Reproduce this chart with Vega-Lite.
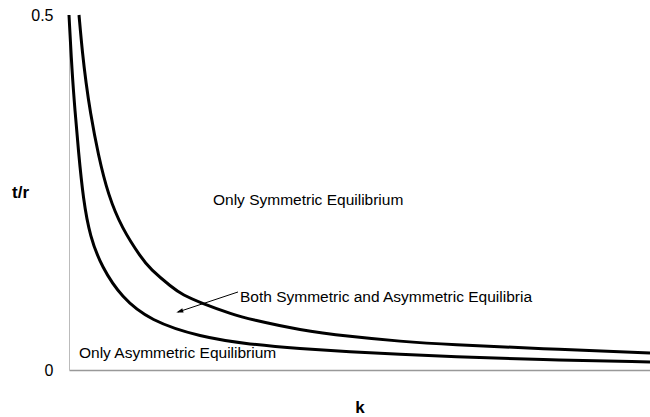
{
  "$schema": "https://vega.github.io/schema/vega-lite/v6.json",
  "width": 581,
  "height": 355,
  "autosize": {"type": "none"},
  "padding": {"left": 69, "top": 15, "right": 0, "bottom": 47},
  "background": "white",
  "config": {"view": {"stroke": null}, "font": "Liberation Sans"},
  "datasets": {
    "curves": [
      {"k": 0, "v": 0.5, "curve": "lower"},
      {"k": 3, "v": 0.42, "curve": "lower"},
      {"k": 6, "v": 0.365, "curve": "lower"},
      {"k": 9.3, "v": 0.31, "curve": "lower"},
      {"k": 14.3, "v": 0.2394, "curve": "lower"},
      {"k": 21, "v": 0.188, "curve": "lower"},
      {"k": 32.7, "v": 0.145, "curve": "lower"},
      {"k": 52.7, "v": 0.102, "curve": "lower"},
      {"k": 81, "v": 0.0695, "curve": "lower"},
      {"k": 131, "v": 0.0465, "curve": "lower"},
      {"k": 181, "v": 0.036, "curve": "lower"},
      {"k": 231, "v": 0.03, "curve": "lower"},
      {"k": 281, "v": 0.0255, "curve": "lower"},
      {"k": 331, "v": 0.022, "curve": "lower"},
      {"k": 381, "v": 0.0187, "curve": "lower"},
      {"k": 471, "v": 0.0145, "curve": "lower"},
      {"k": 581, "v": 0.0113, "curve": "lower"},
      {"k": 10, "v": 0.5, "curve": "upper"},
      {"k": 13.5, "v": 0.445, "curve": "upper"},
      {"k": 17, "v": 0.405, "curve": "upper"},
      {"k": 21, "v": 0.365, "curve": "upper"},
      {"k": 29.3, "v": 0.302, "curve": "upper"},
      {"k": 39.3, "v": 0.246, "curve": "upper"},
      {"k": 52.7, "v": 0.2, "curve": "upper"},
      {"k": 72.7, "v": 0.157, "curve": "upper"},
      {"k": 81, "v": 0.1425, "curve": "upper"},
      {"k": 102.7, "v": 0.1165, "curve": "upper"},
      {"k": 114, "v": 0.1055, "curve": "upper"},
      {"k": 131, "v": 0.095, "curve": "upper"},
      {"k": 164, "v": 0.078, "curve": "upper"},
      {"k": 181, "v": 0.0715, "curve": "upper"},
      {"k": 231, "v": 0.056, "curve": "upper"},
      {"k": 281, "v": 0.0472, "curve": "upper"},
      {"k": 331, "v": 0.0403, "curve": "upper"},
      {"k": 381, "v": 0.0356, "curve": "upper"},
      {"k": 471, "v": 0.0302, "curve": "upper"},
      {"k": 581, "v": 0.0239, "curve": "upper"}
    ],
    "labels": [
      {"k": 144, "v": 0.2394, "text": "Only Symmetric Equilibrium"},
      {"k": 171, "v": 0.1028, "text": "Both Symmetric and Asymmetric Equilibria"},
      {"k": 10, "v": 0.0239, "text": "Only Asymmetric Equilibrium"}
    ],
    "arrow": [
      {"k": 169, "v": 0.1099},
      {"k": 109, "v": 0.0817}
    ],
    "arrowhead": [
      {"k": 111, "v": 0.0826}
    ]
  },
  "layer": [
    {
      "data": {"name": "curves"},
      "mark": {"type": "line", "color": "black", "strokeWidth": 3, "interpolate": "basis"},
      "encoding": {
        "x": {"field": "k", "type": "quantitative", "scale": {"domain": [0, 581], "nice": false},
          "axis": {"title": "k", "labels": false, "ticks": false, "grid": false, "domainColor": "#999999", "domainWidth": 1.5,
            "titleFontSize": 17, "titleFontWeight": "bold", "titleY": 37, "titleBaseline": "middle", "titleColor": "black"}},
        "y": {"field": "v", "type": "quantitative", "scale": {"domain": [0, 0.5], "nice": false},
          "axis": {"title": "t/r", "values": [0, 0.5], "format": "~g", "ticks": false, "grid": false, "domainColor": "#bbbbbb",
            "labelFontSize": 16, "labelPadding": 16, "labelColor": "black",
            "titleAngle": 0, "titleX": -49, "titleY": 177, "titleAlign": "center", "titleBaseline": "middle",
            "titleFontSize": 17, "titleFontWeight": "bold", "titleColor": "black"}},
        "detail": {"field": "curve"}
      }
    },
    {
      "data": {"name": "labels"},
      "mark": {"type": "text", "align": "left", "baseline": "middle", "fontSize": 15.5, "color": "black"},
      "encoding": {
        "x": {"field": "k", "type": "quantitative"},
        "y": {"field": "v", "type": "quantitative"},
        "text": {"field": "text"}
      }
    },
    {
      "data": {"name": "arrow"},
      "mark": {"type": "line", "color": "black", "strokeWidth": 1},
      "encoding": {
        "x": {"field": "k", "type": "quantitative"},
        "y": {"field": "v", "type": "quantitative"}
      }
    },
    {
      "data": {"name": "arrowhead"},
      "mark": {"type": "point", "shape": "M0,-1L0.55,0.8L-0.55,0.8Z", "filled": true, "color": "black", "size": 60, "opacity": 1, "angle": 252},
      "encoding": {
        "x": {"field": "k", "type": "quantitative"},
        "y": {"field": "v", "type": "quantitative"}
      }
    }
  ]
}
